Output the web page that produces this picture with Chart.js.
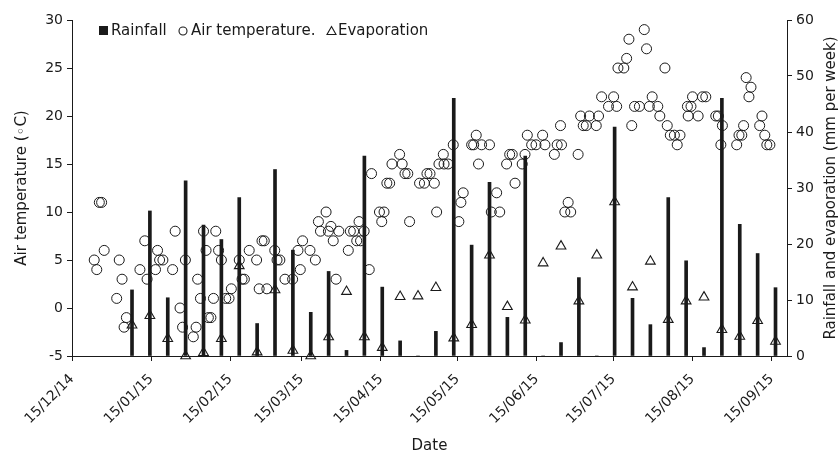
<!DOCTYPE html>
<html>
<head>
<meta charset="utf-8">
<script src="https://cdn.jsdelivr.net/npm/chart.js@4.4.0/dist/chart.umd.min.js"></script>
<style>
  html, body { margin: 0; padding: 0; background: #fff; }
  canvas { display: block; }
</style>
</head>
<body>
<canvas id="chart" width="840" height="455"></canvas>
<script>
// x values are days counted from 15/12/14
const monthDays = [0, 31, 62, 90, 121, 151, 182, 212, 243, 274];
const monthLabels = ['15/12/14', '15/01/15', '15/02/15', '15/03/15', '15/04/15',
    '15/05/15', '15/06/15', '15/07/15', '15/08/15', '15/09/15'];

// weekly rainfall and evaporation (mm per week)
const weekDays = [23.5, 30.5, 37.5, 44.5, 51.5, 58.5, 65.5, 72.5, 79.5, 86.5, 93.5, 100.5,
    107.5, 114.5, 121.5, 128.5, 135.5, 142.5, 149.5, 156.5, 163.5, 170.5, 177.5, 184.5,
    191.5, 198.5, 205.5, 212.5, 219.5, 226.5, 233.5, 240.5, 247.5, 254.5, 261.5, 268.5, 275.5];
const rainfall = [11.8, 25.9, 10.4, 31.3, 23.4, 20.8, 28.3, 5.8, 33.3, 18.9, 7.8, 15.1,
    1.0, 35.7, 12.3, 2.7, 0, 4.4, 46.0, 19.8, 31.0, 6.9, 35.7, 0,
    2.4, 14.0, 0, 40.9, 10.3, 5.6, 28.3, 17.0, 1.5, 46.0, 23.5, 18.3, 12.2];
const evaporation = [5.5, 7.2, 3.1, 0, 0.6, 3.1, 16.1, 0.7, 11.8, 1.0, 0, 3.4,
    11.5, 3.4, 1.5, 10.6, 10.7, 12.2, 3.2, 5.6, 18.0, 8.8, 6.4, 16.6,
    19.6, 9.8, 18.0, 27.5, 12.3, 16.9, 6.5, 9.8, 10.5, 4.7, 3.5, 6.3, 2.6];

// air temperature (deg C)
const tempDays = [8.7, 9.7, 10.7, 11.6, 12.6, 17.5, 18.5, 19.6, 20.4, 21.3, 26.6, 28.5, 29.4,
    32.7, 33.5, 34.3, 35.6, 39.4, 40.4, 42.3, 43.3, 44.4, 47.5, 48.6, 49.2, 50.3, 51.5, 52.5,
    53.4, 54.4, 55.4, 56.3, 57.4, 58.5, 60.2, 61.5, 62.4, 65.5, 66.6, 67.5, 69.4, 72.3, 73.3,
    74.4, 75.3, 76.3, 79.4, 80.3, 81.4, 83.4, 86.4, 88.5, 89.4, 90.3, 93.2, 95.3, 96.5, 97.3,
    99.5, 100.4, 101.4, 102.3, 103.4, 104.5, 108.2, 109.0, 110.3, 111.5, 112.4, 113.0, 114.4,
    116.4, 117.3, 120.4, 121.3, 122.2, 123.3, 124.4, 125.3, 128.3, 129.3, 130.4, 131.5, 132.2,
    136.1, 138.0, 139.0, 140.2, 141.9, 142.8, 143.7, 145.4, 145.7, 147.3, 149.3, 151.5, 152.3,
    153.2, 156.5, 157.3, 158.3, 159.2, 160.4, 163.5, 164.2, 166.3, 167.5, 170.2, 171.4, 172.4,
    173.5, 176.3, 177.4, 178.3, 180.0, 181.7, 184.3, 185.2, 188.9, 190.0, 191.3, 191.7, 193.0,
    194.3, 195.3, 198.2, 199.2, 200.2, 201.4, 202.6, 205.3, 206.2, 207.4, 210.1, 212.1, 213.3,
    213.8, 216.1, 217.2, 218.1, 219.2, 220.3, 222.2, 224.1, 225.0, 226.1, 227.2, 229.4, 230.2,
    232.2, 233.1, 234.3, 235.9, 237.0, 238.1, 241.0, 241.3, 242.4, 243.0, 245.2, 246.9, 248.2,
    252.1, 253.1, 254.1, 254.7, 260.3, 261.2, 262.3, 263.0, 264.0, 265.1, 265.9, 269.3, 270.2,
    271.3, 272.1, 273.3];
const airTemp = [5, 4, 11, 11, 6, 1, 5, 3, -2, -1, 4, 7, 3,
    4, 6, 5, 5, 4, 8, 0, -2, 5, -3, -2, 3, 1, 8, 6,
    -1, -1, 1, 8, 6, 5, 1, 1, 2, 5, 3, 3, 6, 5, 2,
    7, 7, 2, 6, 5, 5, 3, 3, 6, 4, 7, 6, 5, 9, 8,
    10, 8, 8.5, 7, 3, 8, 6, 8, 8, 7, 9, 7, 8,
    4, 14, 10, 9, 10, 13, 13, 15, 16, 15, 14, 14, 9,
    13, 13, 14, 14, 13, 10, 15, 16, 15, 15, 17, 9, 11,
    12, 17, 17, 18, 15, 17, 17, 10, 12, 10, 15, 16, 16,
    13, 15, 16, 18, 17, 17, 18, 17, 16, 17, 19, 17, 10,
    11, 10, 16, 20, 19, 19, 20, 19, 20, 22, 21, 22, 21,
    25, 25, 26, 28, 19, 21, 21, 29, 27, 21, 22, 21, 20,
    25, 19, 18, 18, 17, 18, 21, 20, 21, 22, 20, 22, 22,
    20, 20, 17, 19, 17, 18, 18, 19, 24, 22, 23, 19, 20,
    18, 17, 17];

const ink = '#1a1a1a';
const font = 'DejaVu Sans';

function toPoints(xs, ys) {
    return xs.map((x, i) => ({ x: x, y: ys[i] }));
}

const overlayPlugin = {
    id: 'overlay',
    afterDraw(chart) {
        const ctx = chart.ctx;
        ctx.save();
        ctx.fillStyle = ink;
        ctx.strokeStyle = ink;
        ctx.lineWidth = 1.1;
        ctx.font = '15px "' + font + '"';
        ctx.textBaseline = 'middle';
        ctx.textAlign = 'left';
        // legend inside the plot
        ctx.fillRect(99, 26, 9, 9);
        ctx.fillText('Rainfall', 111, 31);
        ctx.beginPath();
        ctx.arc(183, 31, 4, 0, Math.PI * 2);
        ctx.stroke();
        ctx.fillText('Air temperature.', 191, 31);
        ctx.beginPath();
        ctx.moveTo(331.5, 26.5);
        ctx.lineTo(336, 34.5);
        ctx.lineTo(327, 34.5);
        ctx.closePath();
        ctx.stroke();
        ctx.fillText('Evaporation', 338, 31);
        // right axis title reads bottom to top
        const area = chart.chartArea;
        ctx.translate(831, (area.top + area.bottom) / 2);
        ctx.rotate(-Math.PI / 2);
        ctx.textAlign = 'center';
        ctx.fillText('Rainfall and evaporation (mm per week)', 0, 0);
        ctx.restore();
    }
};

const tickFont = { family: font, size: 14 };
const titleFont = { family: font, size: 15 };

new Chart(document.getElementById('chart'), {
    type: 'scatter',
    data: {
        datasets: [
            {
                type: 'bar',
                label: 'Rainfall',
                data: toPoints(weekDays, rainfall),
                yAxisID: 'y2',
                backgroundColor: ink,
                borderWidth: 0,
                barThickness: 3,
                order: 3
            },
            {
                label: 'Air temperature.',
                data: toPoints(tempDays, airTemp),
                yAxisID: 'y',
                pointStyle: 'circle',
                pointRadius: 5,
                borderWidth: 1,
                borderColor: ink,
                backgroundColor: 'rgba(0,0,0,0)',
                clip: false,
                order: 1
            },
            {
                label: 'Evaporation',
                data: toPoints(weekDays, evaporation),
                yAxisID: 'y2',
                pointStyle: 'triangle',
                pointRadius: 5.6,
                borderWidth: 1.1,
                borderColor: ink,
                backgroundColor: 'rgba(0,0,0,0)',
                clip: false,
                order: 2
            }
        ]
    },
    options: {
        responsive: false,
        animation: false,
        devicePixelRatio: 1,
        layout: { padding: { top: 20, left: 0, right: 0, bottom: 0 } },
        plugins: {
            legend: { display: false },
            tooltip: { enabled: false }
        },
        scales: {
            x: {
                type: 'linear',
                offset: false,
                min: 0,
                max: 280,
                afterBuildTicks: scale => {
                    scale.ticks = monthDays.map(v => ({ value: v }));
                },
                afterFit: scale => { scale.height = 99; },
                grid: { offset: false, drawOnChartArea: false, drawTicks: true, tickLength: 5, color: ink },
                border: { color: ink, width: 1 },
                ticks: {
                    autoSkip: false,
                    minRotation: 45,
                    maxRotation: 45,
                    padding: 10,
                    color: ink,
                    font: tickFont,
                    callback: v => {
                        const i = monthDays.indexOf(v);
                        return i >= 0 ? monthLabels[i] : '';
                    }
                },
                title: { display: true, text: 'Date', color: ink, font: titleFont, padding: { top: 0, bottom: 0 } }
            },
            y: {
                position: 'left',
                min: -5,
                max: 30,
                afterFit: scale => { scale.width = 72; },
                grid: { drawOnChartArea: false, drawTicks: true, tickLength: 5, color: ink },
                border: { color: ink, width: 1 },
                ticks: { stepSize: 5, padding: 4, color: ink, font: tickFont },
                title: { display: true, text: 'Air temperature (\u25E6C)', color: ink, font: titleFont, padding: { top: 13, bottom: 0 } }
            },
            y2: {
                position: 'right',
                min: 0,
                max: 60,
                afterFit: scale => { scale.width = 53; },
                grid: { drawOnChartArea: false, drawTicks: true, tickLength: 5, color: ink },
                border: { color: ink, width: 1 },
                ticks: { stepSize: 10, padding: 4, color: ink, font: tickFont }
            }
        }
    },
    plugins: [overlayPlugin]
});
</script>
</body>
</html>
